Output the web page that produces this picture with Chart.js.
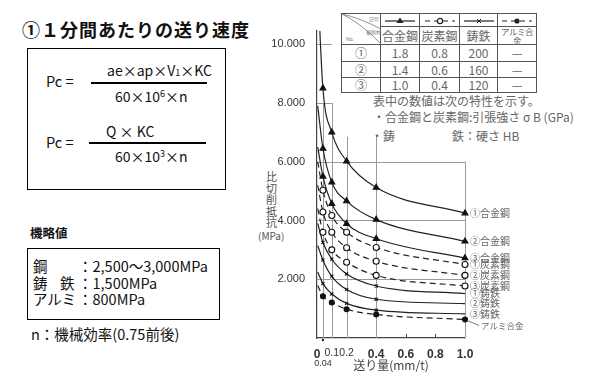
<!DOCTYPE html>
<html>
<head>
<meta charset="utf-8">
<script src="https://cdn.jsdelivr.net/npm/chart.js@4.4.1/dist/chart.umd.min.js"></script>
<style>
body{margin:0;width:600px;height:390px;background:#fff;position:relative;overflow:hidden;font-family:"Noto Sans CJK JP","Noto Sans",sans-serif;color:#111}
.t{position:absolute;white-space:nowrap;line-height:1}
.box{position:absolute;border:1px solid #000}
.bar{position:absolute;height:2px;background:#000}
#chartWrap{position:absolute;left:240px;top:0;width:360px;height:390px}
#tbl{position:absolute;left:341px;top:13px;border-collapse:collapse;table-layout:fixed;color:#666;font-size:12px;text-align:center;border:1.5px solid #333}
#tbl td{border:1px solid #555;padding:0;line-height:1}
.note{color:#666;font-size:12px}
.ylab{color:#555;font-size:11px}
</style>
</head>
<body>
<div class="t" style="left:22px;top:20px;font-size:18px;font-weight:bold;letter-spacing:1px">①１分間あたりの送り速度</div>

<div class="box" style="left:27px;top:48px;width:197px;height:140px"></div>
<div class="t" style="left:46px;top:74px;font-size:14.5px">Pc =</div>
<div class="t" style="left:107px;top:63px;font-size:14px">ae×ap×V<span style="font-size:9px">1</span>×KC</div>
<div class="bar" style="left:91px;top:82px;width:116px"></div>
<div class="t" style="left:115px;top:89px;font-size:14px">60×10<sup style="font-size:9px;vertical-align:5px">6</sup>×n</div>
<div class="t" style="left:46px;top:135px;font-size:14.5px">Pc =</div>
<div class="t" style="left:106px;top:124px;font-size:14px">Q × KC</div>
<div class="bar" style="left:89px;top:142px;width:117px"></div>
<div class="t" style="left:115px;top:149px;font-size:14px">60×10<sup style="font-size:9px;vertical-align:5px">3</sup>×n</div>

<div class="t" style="left:30px;top:227px;font-size:12.5px;font-weight:bold">機略値</div>
<div class="box" style="left:27px;top:248px;width:191px;height:70px"></div>
<div class="t" style="left:33px;top:259px;font-size:14.5px">鋼</div>
<div class="t" style="left:33px;top:276px;font-size:14.5px">鋳</div>
<div class="t" style="left:60px;top:276px;font-size:14.5px">鉄</div>
<div class="t" style="left:33px;top:292px;font-size:14.5px">アルミ</div>
<div class="t" style="left:78px;top:259px;font-size:14.5px">：2,500〜3,000MPa</div>
<div class="t" style="left:78px;top:276px;font-size:14.5px">：1,500MPa</div>
<div class="t" style="left:78px;top:292px;font-size:14.5px">：800MPa</div>
<div class="t" style="left:31px;top:327px;font-size:14.5px">n：機械効率(0.75前後)</div>

<table id="tbl">
<colgroup><col style="width:39px"><col style="width:39px"><col style="width:40px"><col style="width:38px"><col style="width:39px"></colgroup>
<tr style="height:12px">
<td rowspan="2" style="position:relative">
<svg width="39" height="30" style="position:absolute;left:0;top:0">
<path d="M0 0 Q18 4 39 15" stroke="#777" fill="none" stroke-width="0.8"/>
<path d="M0 0 Q20 10 39 30" stroke="#777" fill="none" stroke-width="0.8"/>
<text x="27" y="7" font-size="5" fill="#777">記号</text>
<text x="24" y="20" font-size="5" fill="#777">被削材</text>
<text x="4" y="27" font-size="5" fill="#777">No.</text>
</svg></td>
<td><svg width="34" height="9"><line x1="2" y1="5" x2="32" y2="5" stroke="#222" stroke-width="1.2"/><path d="M17 1.5 L20.5 7 L13.5 7 Z" fill="#222"/></svg></td>
<td><svg width="34" height="9"><line x1="2" y1="5" x2="32" y2="5" stroke="#222" stroke-width="1.2" stroke-dasharray="5 4"/><circle cx="17" cy="5" r="2.6" fill="#fff" stroke="#222" stroke-width="1.2"/></svg></td>
<td><svg width="34" height="9"><line x1="2" y1="5" x2="32" y2="5" stroke="#222" stroke-width="1.2"/><path d="M15 3 L19 7 M19 3 L15 7" stroke="#222" stroke-width="1"/></svg></td>
<td><svg width="34" height="9"><line x1="2" y1="5" x2="32" y2="5" stroke="#222" stroke-width="1.2" stroke-dasharray="5 4"/><circle cx="17" cy="5" r="2.6" fill="#222"/></svg></td>
</tr>
<tr style="height:18px"><td>合金鋼</td><td>炭素鋼</td><td>鋳鉄</td><td style="font-size:8.5px;letter-spacing:-0.5px">アルミ合金</td></tr>
<tr style="height:17px"><td>①</td><td>1.8</td><td>0.8</td><td>200</td><td>—</td></tr>
<tr style="height:16px"><td>②</td><td>1.4</td><td>0.6</td><td>160</td><td>—</td></tr>
<tr style="height:15px"><td>③</td><td>1.0</td><td>0.4</td><td>120</td><td>—</td></tr>
</table>

<div class="t note" style="left:373px;top:95px">表中の数値は次の特性を示す。</div>
<div class="t note" style="left:373px;top:111px">・合金鋼と炭素鋼:引張強さ σ B (GPa)</div>
<div class="t note" style="left:371px;top:130px">・鋳</div>
<div class="t note" style="left:452px;top:130px">鉄：硬さ HB</div>

<div class="t ylab" style="left:266px;top:171px;line-height:11.5px;text-align:center">比<br>切<br>削<br>抵<br>抗</div>
<div class="t ylab" style="left:258px;top:231px;font-size:10px">(MPa)</div>

<div id="chartWrap"><canvas id="chart" width="360" height="390"></canvas></div>

<script>
// feed per tooth (mm/t)
const feedX = [0.005, 0.04, 0.1, 0.2, 0.4, 1.0];
const xTicks = [0, 0.04, 0.1, 0.2, 0.4, 0.6, 0.8, 1.0];
const yTicks = [2000, 4000, 6000, 8000, 10000];

// specific cutting force (MPa)
const alloy1 = [12000, 8500, 7000, 6020, 5120, 4250];
const alloy2 = [7900, 6450, 5300, 4660, 4030, 3290];
const alloy3 = [6500, 5500, 4570, 3890, 3380, 2720];
const carbon1 = [6000, 5030, 4170, 3600, 3080, 2500];
const carbon2 = [5200, 4290, 3600, 3070, 2610, 2130];
const carbon3 = [4400, 3600, 3000, 2580, 2130, 1770];
const iron1 = [3900, 3250, 2680, 2180, 1770, 1510];
const iron2 = [3150, 2650, 2100, 1650, 1320, 1170];
const iron3 = [2250, 1850, 1500, 1180, 950, 820];
const alu = [1790, 1420, 1210, 980, 800, 630];

const seriesNames = ['①合金鋼', '②合金鋼', '③合金鋼', '①炭素鋼', '②炭素鋼', '③炭素鋼', '①鋳鉄', '②鋳鉄', '③鋳鉄', 'アルミ合金'];
const seriesData = [alloy1, alloy2, alloy3, carbon1, carbon2, carbon3, iron1, iron2, iron3, alu];
const seriesKind = ['alloy', 'alloy', 'alloy', 'carbon', 'carbon', 'carbon', 'iron', 'iron', 'iron', 'alu'];

// partial grid lines of the original figure
const hGridTo = [1.0, 1.0, 1.0, 0.1, 0.1];
const vGridX = [0.04, 0.1, 0.2, 0.4, 1.0];
const vGridTop = [8000, 8000, 6850, 6850, 6000];

const kindStyle = {
    alloy: {dash: [], point: 'triangle', r: 3.4, fill: '#111', last: true},
    carbon: {dash: [6, 4], point: 'circle', r: 3, fill: '#fff', last: true},
    iron: {dash: [], point: 'crossRot', r: 2.2, fill: '#111', last: false},
    alu: {dash: [6, 4], point: 'circle', r: 2.5, fill: '#111', last: true}
};

function makeDataset(values, i) {
    const st = kindStyle[seriesKind[i]];
    const radius = feedX.map((x, k) => (k === 0 || (k === feedX.length - 1 && !st.last)) ? 0 : st.r);
    return {
        label: seriesNames[i],
        data: feedX.map((x, k) => ({x, y: values[k]})),
        borderColor: '#222',
        borderWidth: 1.2,
        borderDash: st.dash,
        cubicInterpolationMode: 'monotone',
        pointStyle: st.point,
        pointRadius: radius,
        pointBackgroundColor: st.fill,
        pointBorderColor: '#111',
        pointBorderWidth: 1.1,
        clip: {left: 0, top: 0, right: 8, bottom: 0}
    };
}

const figLines = {
    id: 'figLines',
    beforeDatasetsDraw(chart) {
        const {ctx, scales: {x, y}} = chart;
        ctx.save();
        ctx.strokeStyle = '#9a9a9a';
        ctx.lineWidth = 1;
        ctx.beginPath();
        yTicks.forEach((v, i) => {
            const py = Math.round(y.getPixelForValue(v)) + 0.5;
            ctx.moveTo(x.getPixelForValue(0), py);
            ctx.lineTo(x.getPixelForValue(hGridTo[i]), py);
        });
        vGridX.forEach((v, i) => {
            const px = Math.round(x.getPixelForValue(v)) + 0.5;
            ctx.moveTo(px, y.getPixelForValue(vGridTop[i]));
            ctx.lineTo(px, y.getPixelForValue(0));
        });
        ctx.stroke();
        // small ticks on the feed axis
        ctx.strokeStyle = '#444';
        ctx.beginPath();
        [0.6, 0.8].forEach(v => {
            const px = Math.round(x.getPixelForValue(v)) + 0.5;
            ctx.moveTo(px, y.bottom);
            ctx.lineTo(px, y.bottom - 4);
        });
        ctx.stroke();
        ctx.fillStyle = '#222';
        ctx.beginPath();
        ctx.arc(x.getPixelForValue(0.04), y.bottom + 2, 1.2, 0, Math.PI * 2);
        ctx.fill();
        ctx.restore();
    },
    afterDatasetsDraw(chart) {
        const {ctx, scales: {x, y}} = chart;
        ctx.save();
        ctx.fillStyle = '#666';
        ctx.textBaseline = 'middle';
        const x0 = x.getPixelForValue(1.0);
        seriesData.forEach((vals, i) => {
            const py = y.getPixelForValue(vals[vals.length - 1]);
            if (seriesKind[i] === 'alu') {
                ctx.strokeStyle = '#555';
                ctx.lineWidth = 0.8;
                ctx.beginPath();
                ctx.moveTo(x0 + 2, py + 1);
                ctx.lineTo(x0 + 14, py + 6);
                ctx.stroke();
                ctx.font = '8.5px "Noto Sans CJK JP"';
                ctx.fillText(seriesNames[i], x0 + 16, py + 6);
            } else {
                ctx.font = '10px "Noto Sans CJK JP"';
                ctx.fillText(seriesNames[i], x0 + 5, py);
            }
        });
        ctx.restore();
    }
};

new Chart(document.getElementById('chart'), {
    type: 'line',
    data: {datasets: seriesData.map(makeDataset)},
    options: {
        responsive: false,
        animation: false,
        layout: {padding: {top: 31, right: 135, left: 0, bottom: 0}},
        plugins: {legend: {display: false}, tooltip: {enabled: false}},
        scales: {
            x: {
                type: 'linear', min: 0, max: 1,
                grid: {display: false},
                border: {color: '#444', width: 1.2},
                afterBuildTicks: s => { s.ticks = xTicks.map(v => ({value: v})); },
                afterFit: s => { s.height = 52; },
                ticks: {
                    autoSkip: false, maxRotation: 0, padding: 1, color: '#333',
                    font: c => {
                        const v = c.tick ? c.tick.value : 0;
                        if (v === 0.04) return {size: 9, family: 'Arial, "Liberation Sans"'};
                        if (v === 0.1 || v === 0.2) return {size: 10.5, family: 'Arial, "Liberation Sans"'};
                        return {size: 12, weight: 'bold', family: 'Arial, "Liberation Sans"'};
                    },
                    callback: v => v === 0.04 ? ['', '0.04'] : (v === 0 ? '0' : v.toFixed(1))
                },
                title: {display: true, text: '送り量(mm/t)', color: '#444', font: {size: 12, family: '"Noto Sans CJK JP"'}, padding: {top: 0, bottom: 17}}
            },
            y: {
                min: 0, max: 10450,
                grid: {display: false},
                border: {color: '#444', width: 1.2},
                afterBuildTicks: s => { s.ticks = yTicks.map(v => ({value: v})); },
                afterFit: s => { s.width = 77; },
                ticks: {padding: 4, color: '#333', font: {size: 11, family: 'Arial, "Liberation Sans"'}, callback: v => (v / 1000) + '.000'}
            }
        }
    },
    plugins: [figLines]
});
</script>
</body>
</html>
